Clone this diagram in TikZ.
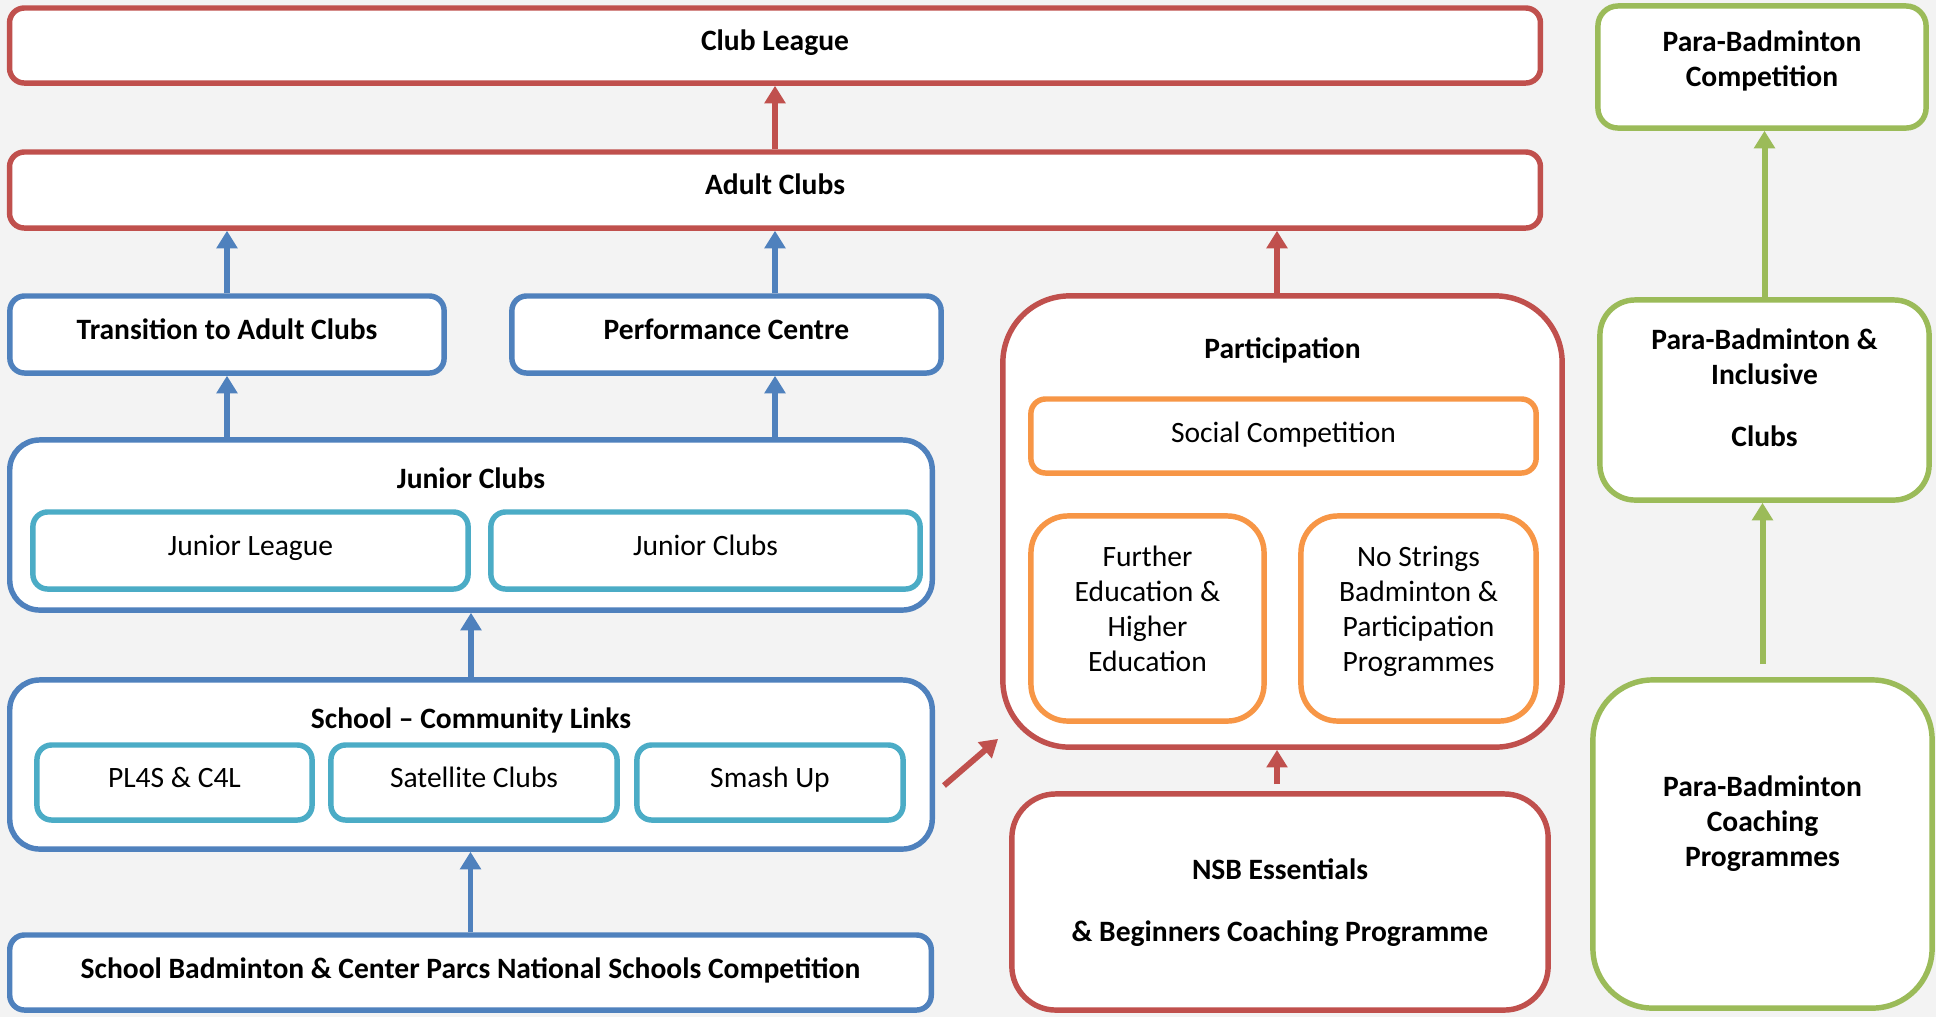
\documentclass[tikz,border=0pt]{standalone}
\usepackage{fontspec}
\setmainfont{Carlito}
\usetikzlibrary{arrows.meta, positioning, calc}
\definecolor{LeagueRed}{RGB}{192, 80, 77}
\definecolor{PathBlue}{RGB}{79, 129, 189}
\definecolor{InnerTeal}{RGB}{75, 172, 198}
\definecolor{ParticipOrange}{RGB}{247, 150, 70}
\definecolor{ParaGreen}{RGB}{155, 187, 89}
\definecolor{SlideGrey}{RGB}{243, 243, 243}
% box text sits a little above the middle, as on the slide
\newcommand{\boxtext}[2][0.6pt]{\raisebox{#1}[\height][\depth]{\begin{tabular}{@{}c@{}}#2\end{tabular}}}

\begin{document}
\begin{tikzpicture}[x=0.01cm, y=-0.01cm, font=\fontsize{8.4}{10}\selectfont, line width=1.55pt,
    box/.style={draw, fill=white, rectangle, align=center, inner sep=0pt, rounded corners=4.2pt},
    heading/.style={font=\fontsize{8.4}{10}\selectfont\bfseries},
    arr/.style={line width=1.7pt, -{Triangle[length=5pt, width=5.8pt]}}]
    % slide background
    \fill[SlideGrey] (0,0) rectangle (1936,1017);

    % adult pathway
    \node[box, draw=LeagueRed, heading, minimum width=15.30cm, minimum height=0.75cm] (club) at (775,45.5) {\boxtext{Club League}};
    \node[box, draw=LeagueRed, heading, minimum width=15.30cm, minimum height=0.76cm] (adult) at (775,190) {\boxtext{Adult Clubs}};
    \node[box, draw=PathBlue, heading, minimum width=4.34cm, minimum height=0.77cm] (trans) at (227,334.5) {\boxtext{Transition to Adult Clubs}};
    \node[box, draw=PathBlue, heading, minimum width=4.29cm, minimum height=0.77cm] (perf) at (726.5,334.5) {\boxtext{Performance Centre}};

    % junior clubs
    \node[box, draw=PathBlue, minimum width=9.22cm, minimum height=1.70cm, rounded corners=8.5pt] (junior) at (471,525) {};
    \node[heading] (juniortitle) at (471,478) {Junior Clubs};
    \node[box, draw=InnerTeal, minimum width=4.35cm, minimum height=0.77cm] (jleague) at (250.5,550.5) {\boxtext{Junior League}};
    \node[box, draw=InnerTeal, minimum width=4.29cm, minimum height=0.77cm] (jclubs) at (705.5,550.5) {\boxtext{Junior Clubs}};

    % school - community links
    \node[box, draw=PathBlue, minimum width=9.22cm, minimum height=1.69cm, rounded corners=8.5pt] (links) at (471,764.5) {};
    \node[heading] (linkstitle) at (471,720) {School -- Community Links};
    \node[box, draw=InnerTeal, minimum width=2.75cm, minimum height=0.75cm] (pl4s) at (174.5,782.5) {\boxtext{PL4S \& C4L}};
    \node[box, draw=InnerTeal, minimum width=2.86cm, minimum height=0.75cm] (sat) at (474,782.5) {\boxtext{Satellite Clubs}};
    \node[box, draw=InnerTeal, minimum width=2.66cm, minimum height=0.75cm] (smash) at (770,782.5) {\boxtext{Smash Up}};
    \node[box, draw=PathBlue, heading, minimum width=9.21cm, minimum height=0.75cm] (schoolbad) at (470.5,972.5) {\boxtext[0.2pt]{School Badminton \& Center Parcs National Schools Competition}};

    % participation
    \node[box, draw=LeagueRed, minimum width=5.59cm, minimum height=4.51cm, rounded corners=19pt] (part) at (1282.5,521.5) {};
    \node[heading] (parttitle) at (1282.5,350) {Participation};
    \node[box, draw=ParticipOrange, minimum width=5.05cm, minimum height=0.74cm] (social) at (1283.5,436) {\boxtext[0.1pt]{Social Competition}};
    \node[box, draw=ParticipOrange, minimum width=2.33cm, minimum height=2.05cm, rounded corners=10.5pt] (further) at (1147.5,618.5) {\boxtext[1.8pt]{Further\\Education \&\\Higher\\Education}};
    \node[box, draw=ParticipOrange, minimum width=2.35cm, minimum height=2.05cm, rounded corners=10.5pt] (nostrings) at (1418.5,618.5) {\boxtext[1.8pt]{No Strings\\Badminton \&\\Participation\\Programmes}};
    \node[box, draw=LeagueRed, heading, minimum width=5.36cm, minimum height=2.16cm, rounded corners=12.5pt] (nsb) at (1280,902) {\boxtext[-0.3pt]{NSB Essentials\\[7.6pt]\& Beginners Coaching Programme}};

    % para-badminton
    \node[box, draw=ParaGreen, heading, minimum width=3.28cm, minimum height=1.22cm, rounded corners=5.7pt] (pcomp) at (1762,67) {\boxtext[1.5pt]{Para-Badminton\\Competition}};
    \node[box, draw=ParaGreen, heading, minimum width=3.29cm, minimum height=2.00cm, rounded corners=10pt] (pinc) at (1764.5,400) {\boxtext[2.6pt]{Para-Badminton \&\\Inclusive\\[7.6pt]Clubs}};
    \node[box, draw=ParaGreen, heading, minimum width=3.39cm, minimum height=3.28cm, rounded corners=17pt] (pcoach) at (1762.5,844) {\boxtext[5.6pt]{Para-Badminton\\Coaching\\Programmes}};

    % arrows
    \coordinate (partup) at ($(part.north)+(-5.5,0)$);
    \draw[arr, LeagueRed] (adult) -- (club);
    \draw[arr, PathBlue] (trans.north) -- (trans.north |- adult.south);
    \draw[arr, PathBlue] (perf.north -| adult) -- (adult.south);
    \draw[arr, PathBlue] (junior.north -| trans) -- (trans.south);
    \draw[arr, PathBlue] (junior.north -| adult) -- (perf.south -| adult);
    \draw[arr, PathBlue] (links.north) -- (links.north |- junior.south);
    \draw[arr, PathBlue] (schoolbad.north) -- (schoolbad.north |- links.south);
    \draw[arr, LeagueRed] ($(links.east)+(9,21)$) -- ($(part.south west)+(-2,-11)$);
    \draw[arr, LeagueRed] (partup) -- (partup |- adult.south);
    \draw[arr, LeagueRed, shorten <=2pt] (nsb.north -| partup) -- (partup |- part.south);
    \draw[arr, ParaGreen] (pinc.north) -- (pinc.north |- pcomp.south);
    \draw[arr, ParaGreen, shorten <=3.7pt] (pcoach.north) -- (pcoach.north |- pinc.south);
\end{tikzpicture}
\end{document}
